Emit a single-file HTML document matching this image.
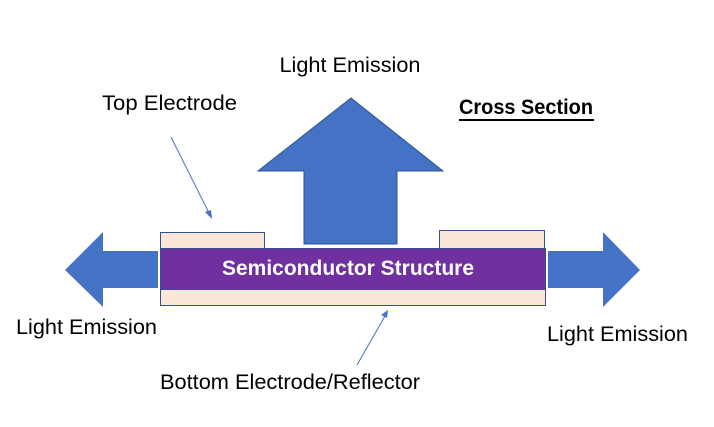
<!DOCTYPE html><html><head><style>body{margin:0;background:#fff}svg{display:block}text{font-family:"Liberation Sans",sans-serif;font-size:21.5px;fill:#000}</style></head><body>
<svg width="714" height="427" viewBox="0 0 714 427">
<polygon points="351,98 443,171 397,171 397,244 304,244 304,171 258,171" fill="#4472c4" stroke="#2f528f" stroke-width="1"/>
<polygon points="65,270 103,232 103,251 158,251 158,288 103,288 103,307" fill="#4472c4"/>
<polygon points="640,270 603,232 603,251 548,251 548,288 603,288 603,307" fill="#4472c4"/>
<rect x="160.5" y="232.5" width="104" height="16" fill="#fbe5d6" stroke="#2f528f"/>
<rect x="439.5" y="230.5" width="105" height="18" fill="#fbe5d6" stroke="#2f528f"/>
<rect x="160.5" y="289.5" width="385" height="16" fill="#fbe5d6" stroke="#2f528f"/>
<rect x="160.5" y="248.5" width="385" height="41" fill="#7030a0" stroke="#2f528f"/>
<text x="348" y="275" text-anchor="middle" style="fill:#fff;font-weight:bold;font-size:21px">Semiconductor Structure</text>
<line x1="171" y1="137" x2="209" y2="213" stroke="#4472c4" stroke-width="1"/>
<polygon points="212,219 205,212 211,210" fill="#4472c4"/>
<line x1="357" y1="365" x2="385" y2="316" stroke="#4472c4" stroke-width="1"/>
<polygon points="388,310 387,318 381,315" fill="#4472c4"/>
<text x="350" y="72" text-anchor="middle" textLength="141" lengthAdjust="spacingAndGlyphs">Light Emission</text>
<text x="102" y="110" textLength="135" lengthAdjust="spacingAndGlyphs">Top Electrode</text>
<text x="459" y="114" textLength="134" lengthAdjust="spacingAndGlyphs" style="font-weight:bold;font-size:21px">Cross Section</text>
<line x1="459" y1="120" x2="594" y2="120" stroke="#000" stroke-width="2"/>
<text x="16" y="334" textLength="141" lengthAdjust="spacingAndGlyphs">Light Emission</text>
<text x="547" y="341" textLength="141" lengthAdjust="spacingAndGlyphs">Light Emission</text>
<text x="160" y="389" textLength="260" lengthAdjust="spacingAndGlyphs">Bottom Electrode/Reflector</text>
</svg></body></html>
